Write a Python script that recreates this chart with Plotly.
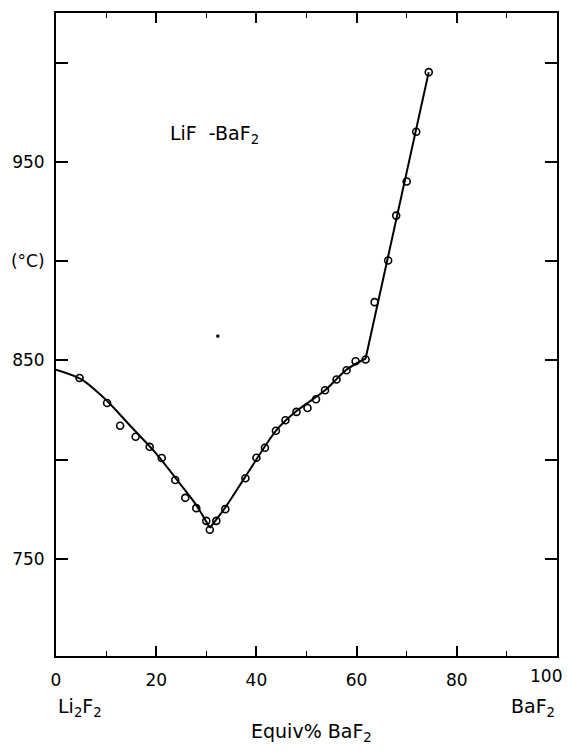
import plotly.graph_objects as go

# measured points (Equiv% BaF2, temperature °C)
pts_x = [4.7, 10.2, 12.8, 15.9, 18.7, 21.1, 23.8, 25.8, 28.0, 30.0, 30.7, 32.0, 33.8,
         37.8, 40.0, 41.7, 43.9, 45.8, 48.0, 50.2, 51.9, 53.7, 56.0, 58.0, 59.8, 61.8,
         63.6, 66.3, 67.9, 70.0, 71.9, 74.4]
pts_y = [841.1, 828.5, 817.0, 811.5, 806.4, 800.8, 789.7, 780.7, 775.5, 769.1, 764.6, 769.1, 775.0,
         790.6, 800.9, 805.9, 814.5, 819.8, 824.0, 826.0, 830.4, 834.9, 840.3, 845.0, 849.5, 850.4,
         879.3, 900.3, 922.9, 940.1, 965.2, 995.2]

# liquidus curves
left_x = [0, 5, 10, 15, 20, 25, 28, 30.7]
left_y = [845.3, 840.5, 830.0, 816.5, 803.0, 787.0, 777.0, 765.6]
right_x = [30.7, 33.7, 37.8, 44.0, 48.0, 53.7, 58.0, 61.8]
right_y = [765.6, 775.5, 791.4, 814.8, 824.4, 834.9, 845.3, 850.9]
upper_x = [61.8, 74.4]
upper_y = [850.9, 995.2]

speck_x = [32.3]
speck_y = [862.2]

x_ticks = [0, 20, 40, 60, 80, 100]
x_labels = ["0", "20", "40", "60", "80", ""]
x_end_label = "100"
y_ticks = [750, 800, 850, 900, 950, 1000]
y_labels = ["750", "", "850", "(°C)", "950", ""]

FONT = "DejaVu Sans"
fig = go.Figure()
line_style = dict(color="black", width=2)
fig.add_trace(go.Scatter(x=left_x, y=left_y, mode="lines", line=dict(shape="spline", smoothing=0.8, **line_style)))
fig.add_trace(go.Scatter(x=right_x, y=right_y, mode="lines", line=dict(shape="spline", smoothing=0.8, **line_style)))
fig.add_trace(go.Scatter(x=upper_x, y=upper_y, mode="lines", line=line_style))
fig.add_trace(go.Scatter(x=pts_x, y=pts_y, mode="markers",
                         marker=dict(symbol="circle-open", size=7, color="black",
                                     line=dict(width=1.6, color="black"))))
fig.add_trace(go.Scatter(x=speck_x, y=speck_y, mode="markers",
                         marker=dict(symbol="square", size=3, color="black")))

# page body has an 8px margin; figure sized so the page does not scroll
fig.update_layout(
    width=564, height=738,
    margin=dict(l=48, r=15, t=3, b=90),
    paper_bgcolor="white", plot_bgcolor="white",
    showlegend=False,
    font=dict(family=FONT, color="black", size=14),
    xaxis=dict(range=[0, 100], tickvals=x_ticks, ticktext=x_labels,
               ticks="inside", ticklen=10, tickwidth=1.5, tickcolor="black",
               minor=dict(dtick=10, ticks="inside", ticklen=5, tickwidth=1, tickcolor="black"),
               showline=True, linecolor="black", linewidth=2, mirror="ticks",
               showgrid=False, zeroline=False, ticklabelstandoff=8,
               tickfont=dict(size=17, family=FONT)),
    yaxis=dict(range=[701, 1025], tickvals=y_ticks, ticktext=y_labels,
               ticks="inside", ticklen=12, tickwidth=2, tickcolor="black",
               showline=True, linecolor="black", linewidth=2, mirror="ticks",
               showgrid=False, zeroline=False, ticklabelstandoff=6,
               tickfont=dict(size=17, family=FONT)),
)

fig.add_annotation(x=100, y=0, xref="x", yref="paper", yanchor="top", yshift=-8,
                   xanchor="right", xshift=7, text=x_end_label,
                   showarrow=False, font=dict(size=17, family=FONT))
fig.add_annotation(x=31.7, y=964, xref="x", yref="y", text="LiF  -BaF<sub>2</sub>",
                   showarrow=False, font=dict(size=19, family=FONT))
fig.add_annotation(x=0, y=-0.103, xref="x", yref="paper", text="Li<sub>2</sub>F<sub>2</sub>",
                   showarrow=False, xanchor="left", font=dict(size=19, family=FONT))
fig.add_annotation(x=100, y=-0.103, xref="x", yref="paper", text="BaF<sub>2</sub>",
                   showarrow=False, xanchor="right", font=dict(size=19, family=FONT))
fig.add_annotation(x=0.51, y=-0.141, xref="paper", yref="paper", text="Equiv% BaF<sub>2</sub>",
                   showarrow=False, font=dict(size=19, family=FONT))

fig.write_html("out.html")
